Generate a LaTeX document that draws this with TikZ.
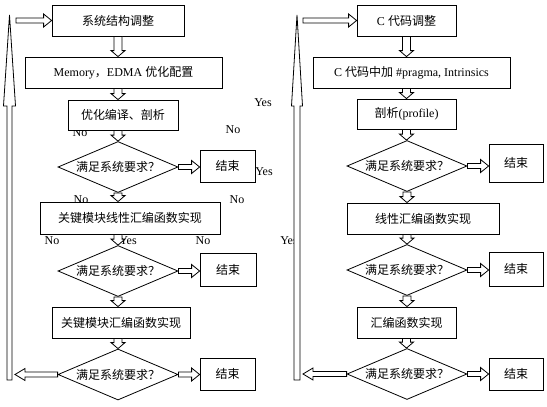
\documentclass[tikz,border=0pt]{standalone}
\usepackage{fontspec}
\setmainfont{Liberation Serif}
\newfontfamily\cjk{Noto Sans CJK SC}
\usetikzlibrary{shapes.geometric,calc}
\tikzset{
  box/.style={draw, fill=white, line width=0.8pt, inner sep=0pt, font=\fontsize{12}{14}\selectfont},
  zbox/.style={box, font=\cjk\fontsize{12}{14}\selectfont},
  dia/.style={draw, fill=white, diamond, aspect=2.4, inner sep=0pt, line width=0.8pt,
    minimum width=120pt, minimum height=51pt, font=\cjk\fontsize{12}{14}\selectfont},
  harr/.style={draw, fill=white, line width=0.8pt, line join=miter},
  stray/.style={font=\fontsize{12}{14}\selectfont, inner sep=0pt},
}
% hollow down arrow: x from #1, from y of #1 to y of #2
\newcommand\darr[2]{\path[harr] let \p1=(#1), \p2=(#2) in
  (\x1-4pt,\y1) -- (\x1-4pt,\y2+6pt) -- (\x1-7pt,\y2+6pt) -- (\x1,\y2) --
  (\x1+7pt,\y2+6pt) -- (\x1+4pt,\y2+6pt) -- (\x1+4pt,\y1) -- cycle;}
% hollow right arrow
\newcommand\rarr[2]{\path[harr] let \p1=(#1), \p2=(#2) in
  (\x1,\y1-2.5pt) -- (\x2-8pt,\y1-2.5pt) -- (\x2-8pt,\y1-6.5pt) -- (\x2,\y1) --
  (\x2-8pt,\y1+6.5pt) -- (\x2-8pt,\y1+2.5pt) -- (\x1,\y1+2.5pt) -- cycle;}
% hollow left arrow
\newcommand\larr[2]{\path[harr] let \p1=(#1), \p2=(#2) in
  (\x1,\y1-2.5pt) -- (\x2+10pt,\y1-2.5pt) -- (\x2+10pt,\y1-6pt) -- (\x2,\y1) --
  (\x2+10pt,\y1+6pt) -- (\x2+10pt,\y1+2.5pt) -- (\x1,\y1+2.5pt) -- cycle;}
\begin{document}
\begin{tikzpicture}[x=1pt,y=-1pt]
\useasboundingbox (0,0) rectangle (547,407);
\fill[white] (0,0) rectangle (547,407);

% stray labels (drawn first, partly hidden by shapes)
\node[stray] (s1) at (263,103) {Yes};
\node[stray] (s2) at (233,130) {No};
\node[stray] (s3) at (80,133) {No};
\node[stray] (s4) at (264,172) {Yes};
\node[stray] (s5) at (81,200) {No};
\node[stray] (s6) at (237,200) {No};
\node[stray] (s7) at (52,241) {No};
\node[stray] (s8) at (128,241) {Yes};
\node[stray] (s9) at (203,241) {No};
\node[stray] (s10) at (289,241) {Yes};

% ---------- left column ----------
\node[zbox, minimum width=132pt, minimum height=31pt] (L1) at (118,20.5) {系统结构调整};
\node[box, minimum width=197pt, minimum height=31pt] (L2) at (123.5,72.5) {Memory{\cjk ，}EDMA {\cjk 优化配置}};
\node[zbox, minimum width=110pt, minimum height=30pt] (L3) at (123,115) {优化编译、剖析};
\node[dia] (D1) at (118,167) {满足系统要求？};
\node[zbox, minimum width=55pt, minimum height=32pt] (E1) at (227.5,166) {结束};
\node[zbox, minimum width=180pt, minimum height=32pt] (L4) at (130,218) {关键模块线性汇编函数实现};
\node[dia] (D2) at (118,271) {满足系统要求？};
\node[zbox, minimum width=56pt, minimum height=33pt] (E2) at (228,269.5) {结束};
\node[zbox, minimum width=138pt, minimum height=31pt] (L5) at (121,322.5) {关键模块汇编函数实现};
\node[dia] (D3) at (118,374.5) {满足系统要求？};
\node[zbox, minimum width=55pt, minimum height=32pt] (E3) at (227.5,374) {结束};

\darr{L1.south}{L2.north}
\darr{L1.south |- L2.south}{L3.north}
\darr{L1.south |- L3.south}{D1.north}
\darr{D1.south}{D1.south |- L4.north}
\darr{D1.south |- L4.south}{D2.north}
\darr{D2.south}{D2.south |- L5.north}
\darr{D2.south |- L5.south}{D3.north}
\rarr{D1.east}{E1.west}
\rarr{D2.east}{E2.west}
\rarr{D3.east}{E3.west}

% left feedback bar (tall hollow up-arrow)
\path[harr] (7,380) -- (7,106) -- (3.5,106) -- (9.5,15) -- (15.5,106) -- (12,106) -- (12,380) -- cycle;
\coordinate (tipL) at (15,374.5);
\coordinate (topL) at (16,20.5);
\larr{D3.west}{tipL}
\rarr{topL}{L1.west}

% ---------- right column ----------
\node[box, minimum width=99pt, minimum height=31pt] (R1) at (406.5,20.5) {C {\cjk 代码调整}};
\node[box, minimum width=197pt, minimum height=31pt] (R2) at (411.5,72.5) {C {\cjk 代码中加} \#pragma, Intrinsics};
\node[box, minimum width=99pt, minimum height=30pt] (R3) at (406.5,114) {{\cjk 剖析}(profile)};
\node[dia] (DR1) at (407,166) {满足系统要求？};
\node[zbox, minimum width=54pt, minimum height=38pt] (ER1) at (516,163) {结束};
\node[zbox, minimum width=152pt, minimum height=31pt] (R4) at (423,218.5) {线性汇编函数实现};
\node[dia] (DR2) at (407,270) {满足系统要求？};
\node[zbox, minimum width=54pt, minimum height=34pt] (ER2) at (516,269) {结束};
\node[zbox, minimum width=99pt, minimum height=31pt] (R5) at (406.5,322.5) {汇编函数实现};
\node[dia] (DR3) at (407,374) {满足系统要求？};
\node[zbox, minimum width=54pt, minimum height=32pt] (ER3) at (516,374) {结束};

\darr{R1.south}{R2.north}
\darr{R1.south |- R2.south}{R3.north}
\darr{R3.south}{DR1.north}
\darr{DR1.south}{DR1.south |- R4.north}
\darr{DR1.south |- R4.south}{DR2.north}
\darr{DR2.south}{R5.north}
\darr{R5.south}{DR3.north}
\rarr{DR1.east}{ER1.west}
\rarr{DR2.east}{ER2.west}
\rarr{DR3.east}{ER3.west}

% right feedback bar
\path[harr] (294,380) -- (294,106) -- (291.5,106) -- (297,15) -- (302.5,106) -- (300,106) -- (300,380) -- cycle;
\coordinate (tipR) at (303,374);
\coordinate (topR) at (303,20.5);
\larr{DR3.west}{tipR}
\rarr{topR}{R1.west}
\end{tikzpicture}
\end{document}
